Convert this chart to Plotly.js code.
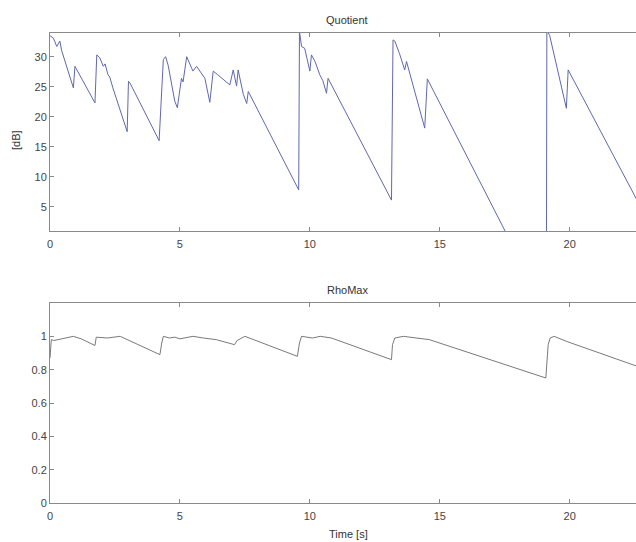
<!DOCTYPE html>
<html>
<head>
<meta charset="utf-8">
<script src="https://cdn.plot.ly/plotly-3.0.1.min.js"></script>
<style>html,body{margin:0;padding:0;background:#fff;}#chart{width:636px;height:542px;}</style>
</head>
<body>
<div id="chart"></div>
<script>
// Quotient [dB] vs time [s]
const quotientTime = [0, 0.13, 0.26, 0.38, 0.45, 0.9, 0.96, 1.73, 1.8, 1.92, 2.05, 2.12, 2.23, 2.3, 2.42, 2.97, 3.02, 3.08, 4.2, 4.36, 4.45, 4.55, 4.8, 4.9, 5.06, 5.12, 5.26, 5.38, 5.5, 5.64, 5.8, 5.96, 6.15, 6.28, 6.45, 6.73, 6.92, 7.05, 7.18, 7.24, 7.44, 7.57, 7.63, 9.57, 9.6, 9.68, 9.8, 9.9, 10.0, 10.06, 10.2, 10.38, 10.5, 10.64, 10.7, 13.14, 13.2, 13.27, 13.45, 13.65, 13.72, 14.42, 14.52, 19.1, 19.12, 19.23, 19.87, 19.94, 22.6];
const quotientDb = [33.5, 33.1, 31.7, 32.6, 31, 24.8, 28.4, 22.3, 30.3, 29.8, 28.4, 28.8, 27, 26.6, 24.8, 17.5, 25.9, 25.6, 16, 29.5, 30, 28.5, 22.6, 21.5, 26.4, 25.8, 30, 28.8, 27.6, 28.4, 27.3, 26.4, 22.4, 27.6, 27, 25.9, 25.3, 27.8, 25.1, 27.8, 23.7, 22.2, 24.2, 7.8, 34.2, 31.7, 31.4, 29.5, 27.6, 30.3, 29.2, 27, 26, 23.9, 26.4, 6.1, 32.8, 32.6, 30.5, 27.8, 29.2, 18.1, 26.3, -12.5, 34.5, 33.5, 21.4, 27.8, 6.0];

// RhoMax vs time [s]
const rhoTime = [0, 0.05, 0.15, 0.5, 0.9, 1.2, 1.73, 1.78, 2.2, 2.7, 4.23, 4.3, 4.36, 4.6, 4.8, 5.0, 5.2, 5.5, 5.9, 6.4, 7.1, 7.2, 7.5, 9.52, 9.6, 9.68, 10.1, 10.4, 10.83, 13.14, 13.18, 13.27, 13.6, 14.23, 14.6, 19.08, 19.12, 19.17, 19.25, 19.4, 19.87, 22.6];
const rhoMax = [0.87, 0.98, 0.975, 0.985, 1.0, 0.985, 0.945, 0.995, 0.99, 1.0, 0.89, 0.96, 1.0, 0.99, 0.995, 0.985, 0.99, 1.0, 0.99, 0.98, 0.95, 0.975, 1.0, 0.88, 0.96, 1.0, 0.99, 1.0, 0.99, 0.86, 0.95, 0.99, 1.0, 0.99, 0.98, 0.75, 0.86, 0.95, 0.99, 1.0, 0.97, 0.82];

const xTicks = [0, 5, 10, 15, 20];
const qTicks = [5, 10, 15, 20, 25, 30];
const rTicks = [0, 0.2, 0.4, 0.6, 0.8, 1];

const axisColor = '#8a8a8a';
const fontFam = 'Liberation Sans, Arial, sans-serif';
const tickFont = {family: fontFam, size: 11, color: '#444'};
const labelFont = {family: fontFam, size: 11, color: '#333'};

const xBase = {
  range: [0, 22.55], tickvals: xTicks, ticks: 'inside', ticklen: 4, tickcolor: axisColor,
  showline: true, linecolor: axisColor, linewidth: 1, mirror: 'ticks',
  showgrid: false, zeroline: false, tickfont: tickFont, fixedrange: true, ticklabelstandoff: 3
};
const yBase = {
  ticks: 'inside', ticklen: 4, tickcolor: axisColor, showline: true, linecolor: axisColor,
  linewidth: 1, showgrid: false, zeroline: false, tickfont: tickFont, fixedrange: true
};

const data = [
  {x: quotientTime, y: quotientDb, type: 'scatter', mode: 'lines', line: {color: '#5f68ad', width: 1}, xaxis: 'x', yaxis: 'y', hoverinfo: 'skip'},
  {x: rhoTime, y: rhoMax, type: 'scatter', mode: 'lines', line: {color: '#7a7a7a', width: 1}, xaxis: 'x2', yaxis: 'y2', hoverinfo: 'skip'}
];

function label(text, px, py, angle) {
  return {text: text, xref: 'paper', yref: 'paper', x: px / 636, y: 1 - py / 542,
    xanchor: 'center', yanchor: 'middle', showarrow: false, textangle: angle || 0, font: labelFont};
}

const layout = {
  width: 636, height: 542,
  margin: {l: 0, r: 0, t: 0, b: 0},
  paper_bgcolor: '#fff', plot_bgcolor: '#fff',
  showlegend: false,
  xaxis: Object.assign({}, xBase, {domain: [50/636, 1], anchor: 'y'}),
  yaxis: Object.assign({}, yBase, {domain: [1 - 231/542, 1 - 33/542], range: [0.95, 33.95], tickvals: qTicks, anchor: 'x'}),
  xaxis2: Object.assign({}, xBase, {domain: [50/636, 1], anchor: 'y2'}),
  yaxis2: Object.assign({}, yBase, {domain: [1 - 503/542, 1 - 303/542], range: [0, 1.2], tickvals: rTicks, anchor: 'x2'}),
  annotations: [
    label('Quotient', 347, 20),
    label('RhoMax', 347, 290),
    label('Time [s]', 348, 534),
    label('[dB]', 16, 140, -90)
  ]
};

Plotly.newPlot('chart', data, layout, {staticPlot: true, displayModeBar: false});
</script>
</body>
</html>
